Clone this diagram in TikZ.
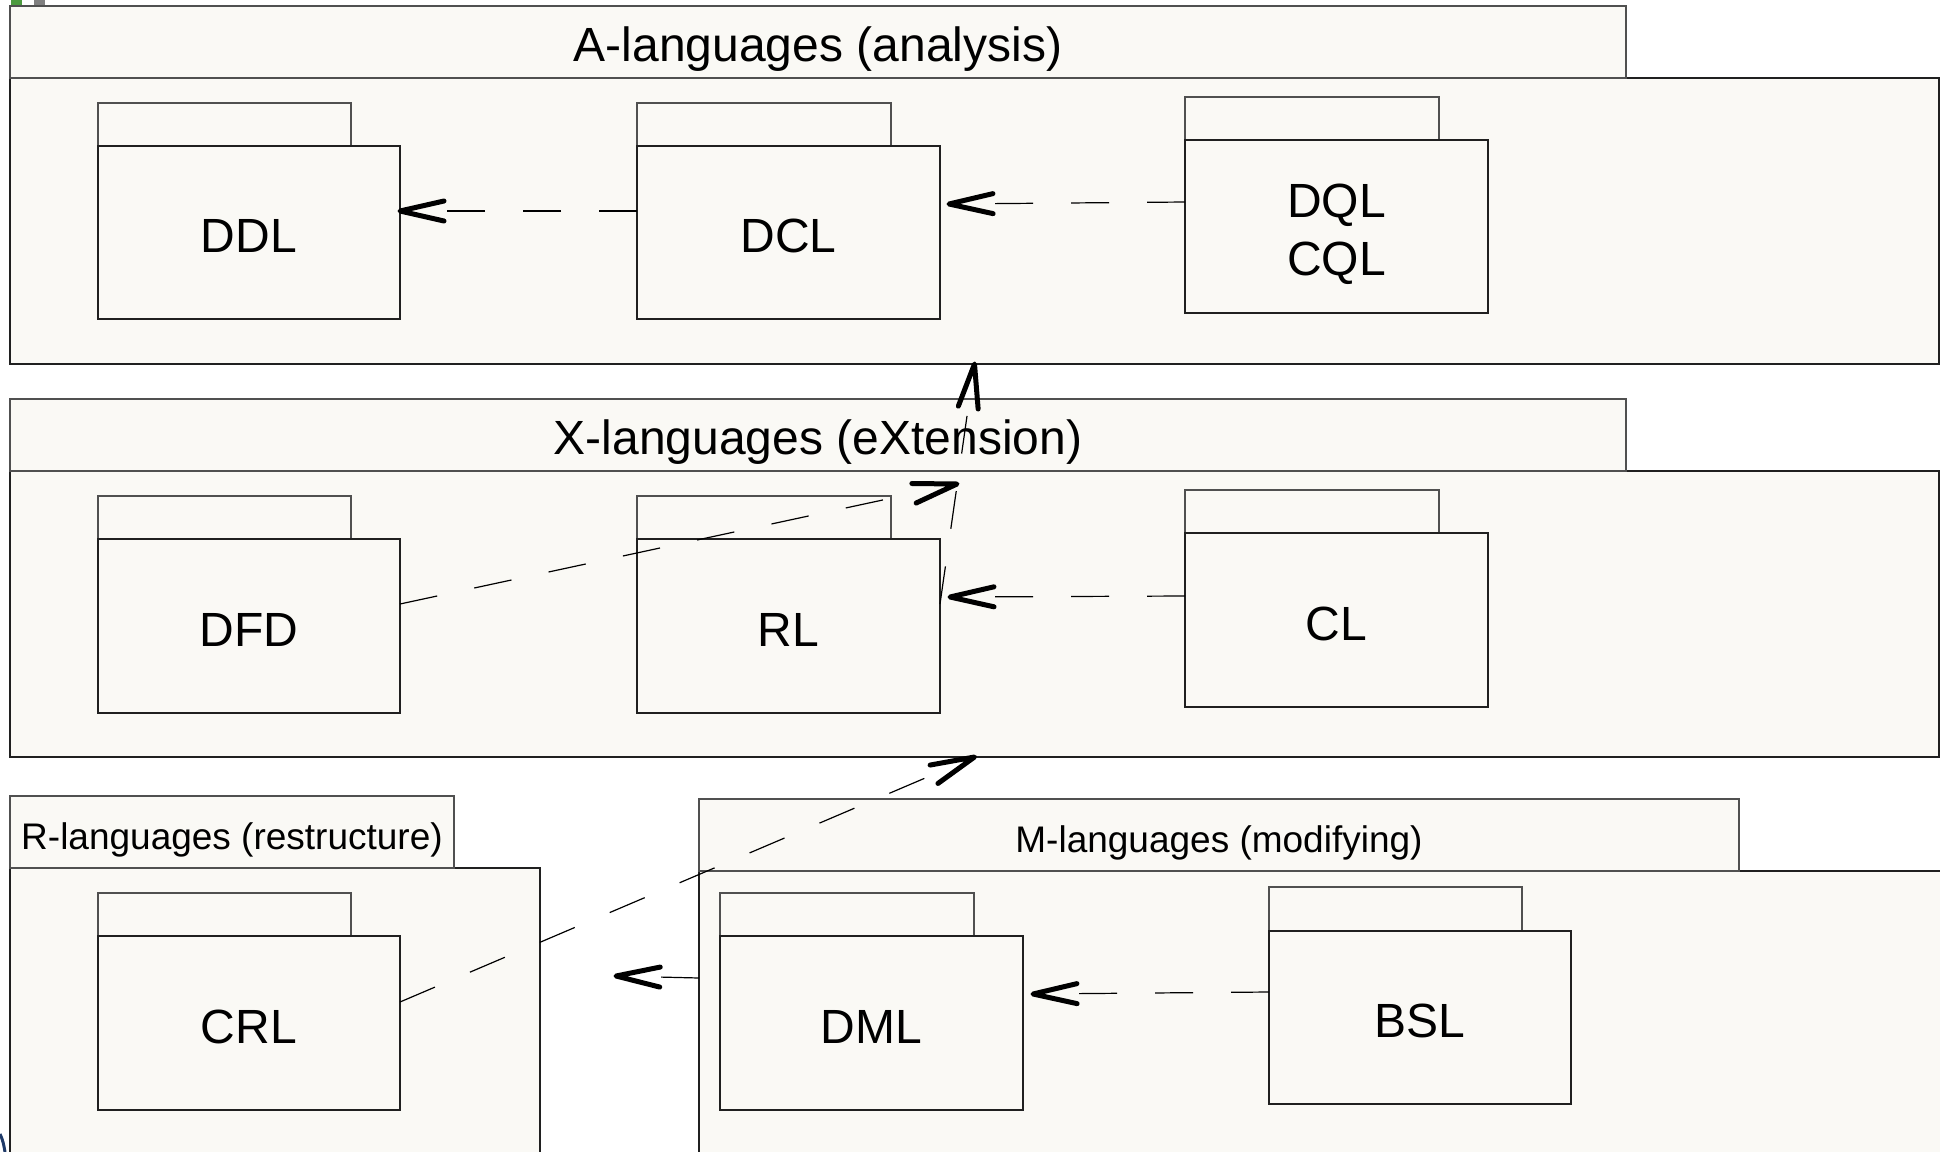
\documentclass[tikz,border=0pt]{standalone}
\usepackage{fontspec}
\setmainfont{Liberation Sans}
\usetikzlibrary{calc}
\definecolor{pkgfill}{HTML}{FAF9F5}
\definecolor{tabline}{HTML}{505050}
\definecolor{bodyline}{HTML}{202020}
\definecolor{artgreen}{HTML}{4C9A3F}
\definecolor{artgray}{HTML}{808080}
\definecolor{artnavy}{HTML}{1F3A68}
\newcommand\bigfont{\fontsize{24}{29}\selectfont}
\newcommand\smallfont{\fontsize{18.5}{22}\selectfont}
% baseline placed at a fixed distance below the node centre
\newcommand\lbl[1]{\raisebox{-10pt}[0pt][0pt]{#1}}
\newcommand\ttl[1]{\raisebox{-9.7pt}[0pt][0pt]{#1}}
\newcommand\sttl[1]{\raisebox{-8.5pt}[0pt][0pt]{#1}}
\tikzset{
  tabbox/.style={draw=tabline, fill=pkgfill, line width=0.8pt, inner sep=0pt, outer sep=0pt, font=\bigfont},
  bodybox/.style={draw=bodyline, fill=pkgfill, line width=0.8pt, inner sep=0pt, outer sep=0pt, font=\bigfont, align=center},
  depdash/.style={draw=black, line width=0.6pt, dash pattern=on 19pt off 19pt},
  dephead/.style={draw=black, line width=2.5pt, line cap=round, line join=round}
}
% name, x1, y1, x2, y2, style, text (pixel coordinates)
\newcommand\pkgnode[7]{\node[#6, anchor=north west, minimum width={(#4-#2)*0.5pt}, minimum height={(#5-#3)*0.5pt}] (#1) at (#2,#3) {#7};}
\newcommand\dep[2]{%
  \coordinate (#1b) at ($(#2)!22pt!(#1)$);
  \draw[depdash] (#1) -- (#1b);
  \draw[dephead] ($(#1b)!5pt!90:(#2)$) -- (#2) -- ($(#1b)!5pt!-90:(#2)$);}
\begin{document}
\begin{tikzpicture}[x=0.5pt, y=-0.5pt]
\useasboundingbox (0,0) rectangle (1940,1152);
\clip (0,0) rectangle (1940,1152);
\fill[white] (0,0) rectangle (1940,1152);
% corner artifacts
\fill[artgreen] (11,0) rectangle (22,5);
\fill[artgray] (34,0) rectangle (45,5);
\draw[artnavy, line width=1.5pt] (0,1134) .. controls (3,1140) and (4,1146) .. (5,1152);

% A-languages
\pkgnode{abody}{10}{78}{1939}{364}{bodybox}{}
\pkgnode{atab}{10}{6}{1626}{78}{tabbox}{\ttl{A-languages (analysis)}}
\pkgnode{ddltab}{98}{103}{351}{146}{tabbox}{}
\pkgnode{ddl}{98}{146}{400}{319}{bodybox}{\lbl{DDL}}
\pkgnode{dcltab}{637}{103}{891}{146}{tabbox}{}
\pkgnode{dcl}{637}{146}{940}{319}{bodybox}{\lbl{DCL}}
\pkgnode{dqltab}{1185}{97}{1439}{140}{tabbox}{}
\pkgnode{dql}{1185}{140}{1488}{313}{bodybox}{\raisebox{4.45pt}[0pt][0pt]{\begin{tabular}[t]{@{}c@{}}DQL\\CQL\end{tabular}}}

% X-languages
\pkgnode{xbody}{10}{471}{1939}{757}{bodybox}{}
\pkgnode{xtab}{10}{399}{1626}{471}{tabbox}{\ttl{X-languages (eXtension)}}
\pkgnode{dfdtab}{98}{496}{351}{539}{tabbox}{}
\pkgnode{dfd}{98}{539}{400}{713}{bodybox}{\lbl{DFD}}
\pkgnode{rltab}{637}{496}{891}{539}{tabbox}{}
\pkgnode{rl}{637}{539}{940}{713}{bodybox}{\lbl{RL}}
\pkgnode{cltab}{1185}{490}{1439}{533}{tabbox}{}
\pkgnode{cl}{1185}{533}{1488}{707}{bodybox}{\lbl{CL}}

% R-languages
\pkgnode{rbody}{10}{868}{540}{1160}{bodybox}{}
\pkgnode{rtab}{10}{796}{454}{868}{tabbox, font=\smallfont}{\sttl{R-languages (restructure)}}
\pkgnode{crltab}{98}{893}{351}{936}{tabbox}{}
\pkgnode{crl}{98}{936}{400}{1110}{bodybox}{\lbl{CRL}}

% M-languages
\pkgnode{mbody}{699}{871}{1945}{1160}{bodybox}{}
\pkgnode{mtab}{699}{799}{1739}{871}{tabbox, font=\smallfont}{\sttl{M-languages (modifying)}}
\pkgnode{dmltab}{720}{893}{974}{936}{tabbox}{}
\pkgnode{dml}{720}{936}{1023}{1110}{bodybox}{\lbl{DML}}
\pkgnode{bsltab}{1269}{887}{1522}{931}{tabbox}{}
\pkgnode{bsl}{1269}{931}{1571}{1104}{bodybox}{\lbl{BSL}}

% dependencies
\coordinate (c1s) at ([yshift=10.75pt]dcl.west);
\coordinate (c1t) at ([yshift=10.75pt]ddl.east);
\dep{c1s}{c1t}
\coordinate (c2s) at ([yshift=12.25pt]dql.west);
\coordinate (c2t) at ([xshift=4.5pt,yshift=14.25pt]dcl.east);
\dep{c2s}{c2t}
\coordinate (c3s) at ([yshift=12pt]cl.west);
\coordinate (c3t) at ([xshift=5pt,yshift=14.5pt]rl.east);
\dep{c3s}{c3t}
\coordinate (c4s) at ([yshift=11pt]dfd.east);
\coordinate (c4t) at ([xshift=8.5pt,yshift=27.5pt]rl.north east);
\dep{c4s}{c4t}
\coordinate (c5s) at ([yshift=11pt]rl.east);
\coordinate (c5t) at (abody.south);
\dep{c5s}{c5t}
\coordinate (c6s) at ([yshift=10.5pt]crl.east);
\coordinate (c6t) at (xbody.south);
\dep{c6s}{c6t}
\coordinate (c7s) at ([yshift=18.75pt]mbody.west);
\coordinate (c7t) at ([xshift=38pt,yshift=19pt]rbody.east);
\dep{c7s}{c7t}
\coordinate (c8s) at ([yshift=12.75pt]bsl.west);
\coordinate (c8t) at ([xshift=5pt,yshift=14.5pt]dml.east);
\dep{c8s}{c8t}
\end{tikzpicture}
\end{document}
